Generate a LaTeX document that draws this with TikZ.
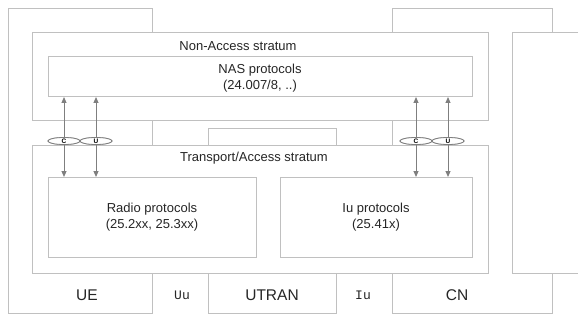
\documentclass[tikz,border=0pt]{standalone}
\usepackage{fontspec}
\setmainfont{Liberation Sans}
\newfontfamily\monofnt{Liberation Mono}
\usetikzlibrary{arrows.meta,shapes.geometric}
\definecolor{boxgray}{HTML}{C0C0C0}
\definecolor{arrgray}{HTML}{7F7F7F}
\begin{document}
\begin{tikzpicture}[x=1pt,y=-1pt,
  box/.style={draw=boxgray,line width=1pt,fill=white,rectangle,inner sep=0pt,outer sep=0pt},
  lbl/.style={inner sep=0pt,font=\fontsize{13}{16}\selectfont,text=black!85,align=center},
  big/.style={inner sep=0pt,font=\fontsize{15.5}{18}\selectfont,text=black!85},
  ifc/.style={inner sep=0pt,font=\monofnt\fontsize{13}{15}\selectfont,text=black!85},
  arr/.style={draw=arrgray,line width=1pt,{Triangle[length=6pt,width=5pt]}-{Triangle[length=6pt,width=5pt]},color=arrgray},
  cu/.style={ellipse,draw=arrgray,line width=0.8pt,fill=white,minimum width=32pt,minimum height=7pt,inner sep=0pt,font=\bfseries\fontsize{6.5}{7}\selectfont}
]
\useasboundingbox (0,0) rectangle (588,323);
\fill[white] (0,0) rectangle (588,323);
% outer entities
\node[box,minimum width=144pt,minimum height=304pt] (ue) at (80,161) {};
\node[box,minimum width=128pt,minimum height=184pt] (utran) at (272,221) {};
\node[box,minimum width=160pt,minimum height=304pt] (cn) at (472,161) {};
% right open box
\fill[white] (512,33) rectangle (578,273);
\coordinate (rtl) at (578,33);
\coordinate (rbl) at (578,273);
\draw[draw=boxgray,line width=1pt] (rtl) -- (512,33) -- (512,273) -- (rbl);
% strata
\node[box,minimum width=456pt,minimum height=88pt] (nas) at (260,77) {};
\node[box,minimum width=424pt,minimum height=40pt] (nasp) at (260,77) {};
\node[box,minimum width=456pt,minimum height=127pt] (tas) at (260,209.5) {};
\node[box,minimum width=208pt,minimum height=80pt] (radio) at (152,217) {};
\node[box,minimum width=192pt,minimum height=80pt] (iup) at (376,217) {};
% labels
\node[lbl] (nasl) at (238,46) {Non-Access stratum};
\node[lbl] (naspl) at (260,78) {NAS protocols\\(24.007/8, ..)};
\node[lbl] (tasl) at (254,158) {Transport/Access stratum};
\node[lbl] (radiol) at (152,217) {Radio protocols\\(25.2xx, 25.3xx)};
\node[lbl] (iupl) at (376,217) {Iu protocols\\(25.41x)};
\node[big] (uel) at (87,295) {UE};
\node[big] (utranl) at (272,295) {UTRAN};
\node[big] (cnl) at (457,295) {CN};
\node[ifc] (uu) at (182,295) {Uu};
\node[ifc] (iu) at (363,295) {Iu};
% C/U ellipses
\node[cu] (c1) at (64,141) {};
\node[cu] (u1) at (96,141) {};
\node[cu] (c2) at (416,141) {};
\node[cu] (u2) at (448,141) {};
% arrows
\draw[arr] (nasp.south -| c1) -- (radio.north -| c1);
\draw[arr] (nasp.south -| u1) -- (radio.north -| u1);
\draw[arr] (nasp.south -| c2) -- (iup.north -| c2);
\draw[arr] (nasp.south -| u2) -- (iup.north -| u2);
% ellipses with letters on top
\node[cu] at (c1) {C};
\node[cu] at (u1) {U};
\node[cu] at (c2) {C};
\node[cu] at (u2) {U};
\end{tikzpicture}
\end{document}
